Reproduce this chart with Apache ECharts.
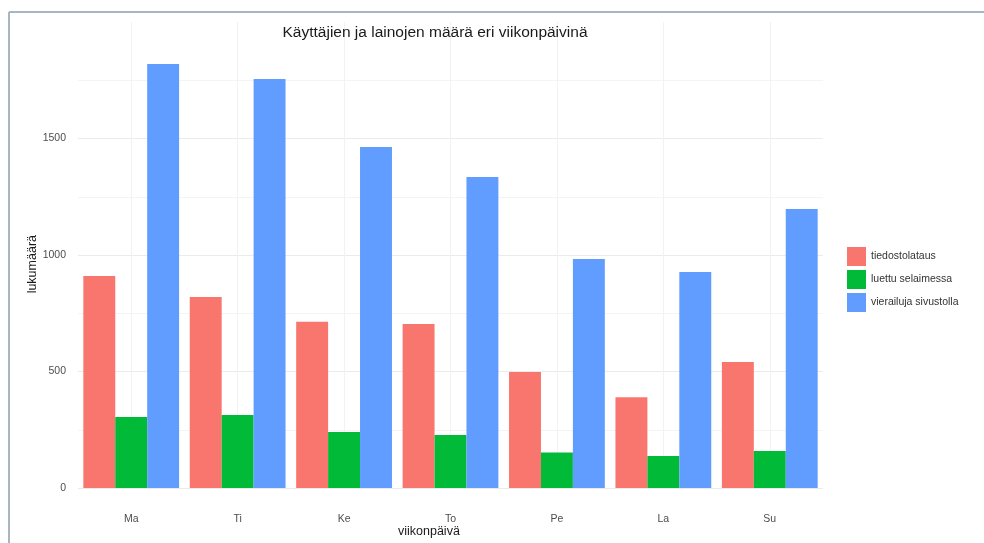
<!DOCTYPE html>
<html>
<head>
<meta charset="utf-8">
<script src="https://cdn.jsdelivr.net/npm/echarts@6/dist/echarts.min.js"></script>
<style>
  html, body { margin: 0; padding: 0; background: #fff; }
  #chart { width: 984px; height: 543px; }
</style>
</head>
<body>
<div id="chart"></div>
<script>
const categories = ['Ma', 'Ti', 'Ke', 'To', 'Pe', 'La', 'Su'];
const seriesNames = ['tiedostolataus', 'luettu selaimessa', 'vierailuja sivustolla'];
const tiedostolataus = [910, 820, 714, 704, 498, 390, 541];
const luettuSelaimessa = [305, 313, 240, 227, 152, 137, 159];
const vierailujaSivustolla = [1820, 1755, 1463, 1335, 983, 927, 1197];
const yTicks = [0, 500, 1000, 1500];
const colors = ['#F8766D', '#00BA38', '#619CFF'];

const chart = echarts.init(document.getElementById('chart'));
const values = [tiedostolataus, luettuSelaimessa, vierailujaSivustolla];

const series = values.map((v, i) => ({
  name: seriesNames[i],
  type: 'bar',
  data: v,
  barGap: '0%',
  barCategoryGap: '10%',
  z: 10,
  itemStyle: { color: colors[i] }
}));
// faint vertical gridlines at category centres
series.push({
  type: 'line',
  data: [],
  silent: true,
  z: 1,
  showSymbol: false,
  markLine: {
    silent: true,
    symbol: 'none',
    label: { show: false },
    lineStyle: { color: '#f2f2f2', type: 'solid', width: 1 },
    data: categories.map(c => ({ xAxis: c }))
  }
});

chart.setOption({
  backgroundColor: '#ffffff',
  animation: false,
  color: colors,
  title: {
    text: 'Käyttäjien ja lainojen määrä eri viikonpäivinä',
    left: 430,
    top: 20,
    textAlign: 'center',
    textStyle: { fontFamily: 'Liberation Sans', fontSize: 15.5, fontWeight: 'normal', color: '#1a1a1a' }
  },
  legend: {
    data: seriesNames,
    orient: 'vertical',
    left: 847,
    top: 247,
    padding: 0,
    itemWidth: 19,
    itemHeight: 19,
    itemGap: 4,
    icon: 'rect',
    textStyle: { fontFamily: 'Liberation Sans', fontSize: 10.5, color: '#333' }
  },
  grid: { left: 78, right: 161, top: 22, bottom: 55, containLabel: false },
  xAxis: {
    type: 'category',
    data: categories,
    axisLine: { show: false },
    axisTick: { show: false },
    splitLine: { show: false },
    axisLabel: { margin: 26, fontFamily: 'Liberation Sans', fontSize: 10.5, color: '#4d4d4d' }
  },
  yAxis: {
    type: 'value',
    min: 0,
    max: 2000,
    interval: 500,
    axisLine: { show: false },
    axisTick: { show: false },
    axisLabel: {
      margin: 12,
      fontFamily: 'Liberation Sans', fontSize: 10.5, color: '#4d4d4d',
      formatter: v => (yTicks.indexOf(v) >= 0 ? String(v) : '')
    },
    splitLine: { show: true, lineStyle: { color: ['#ebebeb', '#ebebeb', '#ebebeb', '#ebebeb', '#ffffff'], width: 1 } },
    minorTick: { show: false, splitNumber: 2 },
    minorSplitLine: { show: true, lineStyle: { color: '#f4f4f4', width: 1 } }
  },
  graphic: [
    { type: 'line', shape: { x1: 9, y1: 12, x2: 984, y2: 12 }, style: { stroke: '#a7b6c2', lineWidth: 2 } },
    { type: 'line', shape: { x1: 9, y1: 12, x2: 9, y2: 543 }, style: { stroke: '#a7b6c2', lineWidth: 2 } },
    { type: 'text', left: 398, top: 525, style: { text: 'viikonpäivä', font: '12.5px "Liberation Sans"', fill: '#1a1a1a' } },
    { type: 'text', left: 26, top: 235, rotation: Math.PI / 2, style: { text: 'lukumäärä', font: '12.5px "Liberation Sans"', fill: '#1a1a1a' } }
  ],
  series: series
});
</script>
</body>
</html>
